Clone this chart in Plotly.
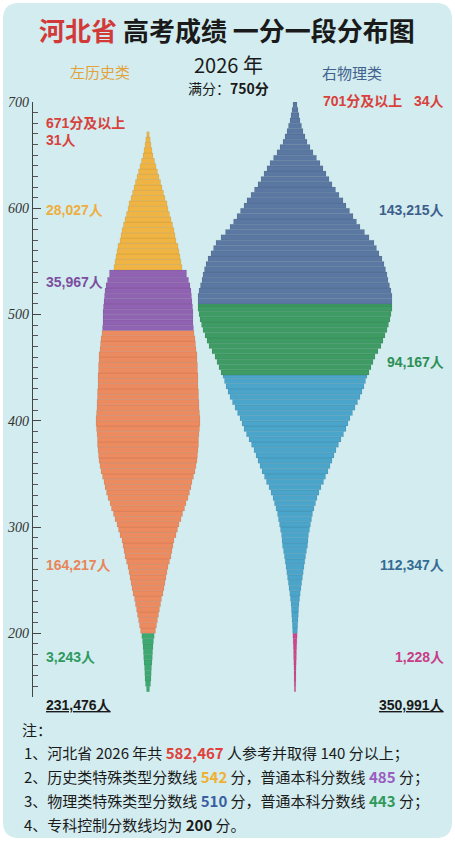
import plotly.graph_objects as go

# ---------------- data ----------------
# History (left): score-bin lower edges, last value is the top edge
hist_edges = list(range(145, 540, 5)) + list(range(542, 672, 5)) + [672]
hist_counts = [
    22, 38, 45, 48, 52, 60, 65, 69, 75, 82, 93,
    112, 128, 142, 158, 172, 188, 202, 225, 240, 255, 270, 285, 300, 322, 345, 360, 375, 390, 420, 442,
    465, 495, 518, 548, 570, 600, 622, 645, 660, 682, 705, 720, 735, 742, 750, 758, 758, 765, 772, 780,
    780, 772, 765, 765, 758, 758, 750, 750, 750, 742, 742, 735, 735, 720, 712, 705, 690, 682, 675, 675,
    675, 668, 660, 652, 645, 630, 608, 578,
    510, 495, 480, 465, 450, 420, 405, 390, 368, 345, 322, 300, 285, 255, 232, 210, 188, 165, 142, 120,
    98, 75, 60, 45, 33, 18,
]
hist_cuts = [542, 485, 200]
hist_colors = ["#efb443", "#9062b2", "#ec8b60", "#3da870"]

# Physics (right)
phys_edges = list(range(145, 445, 5)) + list(range(443, 510, 5)) + list(range(510, 705, 5)) + [702]
phys_counts = [
    10, 12, 14, 15, 16, 18, 21, 22, 25, 28, 32,
    36, 40, 45, 50, 54, 60, 69, 78, 90, 100, 112, 123, 135, 147, 159, 172, 188, 195, 202, 218,
    232, 248, 262, 285, 308, 330, 360, 390, 428, 458, 495, 525, 555, 585, 615, 652, 690, 728, 765, 795,
    825, 862, 900, 938, 975, 1005, 1035, 1058, 1080,
    1110, 1140, 1170, 1200, 1245, 1290, 1320, 1350, 1380, 1402, 1425, 1440, 1455, 1455,
    1455, 1455, 1440, 1418, 1395, 1380, 1358, 1335, 1305, 1260, 1222, 1185, 1110, 1042, 975, 922, 870,
    818, 765, 720, 660, 608, 555, 510, 465, 420, 375, 322, 270, 225, 180, 150, 120, 98, 75, 60, 45, 30, 15,
]
phys_cuts = [510, 443, 200]
phys_colors = ["#5a78a2", "#3d9b63", "#4ba4c9", "#d0448d"]

y_ticks = [200, 300, 400, 500, 600, 700]

# ---------------- layout constants ----------------
W, H = 455, 843
ML, MR, MT, MB = 33, 0, 102, 146
PW, PH = W - ML - MR, H - MT - MB
PEOPLE_PER_PX = 7.5
X_MAX = PW * PEOPLE_PER_PX
LEFT_CX = (148 - ML) * PEOPLE_PER_PX
RIGHT_CX = (295 - ML) * PEOPLE_PER_PX


def px(x):
    return (x - ML) / PW


def py(y):
    return (H - MB - y) / PH


def color_for(score, cuts, colors):
    for c, col in zip(cuts, colors):
        if score >= c:
            return col
    return colors[-1]


def violin(edges, counts, cx, cuts, colors):
    lo = edges[:-1]
    hi = edges[1:]
    centers = [(a + b) / 2 for a, b in zip(lo, hi)]
    thick = [b - a for a, b in zip(lo, hi)]
    base = [cx - c / 2 for c in counts]
    cols = [color_for(a, cuts, colors) for a in lo]
    return go.Bar(
        orientation="h", y=centers, x=counts, base=base, width=thick,
        marker=dict(color=cols, line=dict(color="rgba(0,0,0,0.10)", width=0.6)),
        hoverinfo="skip", showlegend=False,
    )


fig = go.Figure()
fig.add_trace(violin(hist_edges, hist_counts, LEFT_CX, hist_cuts, hist_colors))
fig.add_trace(violin(phys_edges, phys_counts, RIGHT_CX, phys_cuts, phys_colors))

SANS = "Liberation Sans, Arial, Noto Sans CJK SC"
CJK = "Noto Sans CJK SC"

anns = []


def ann(text, x, y, size=14, color="#222", xanchor="left", family=SANS, weight="normal"):
    anns.append(dict(
        text=text, x=px(x), y=py(y), xref="paper", yref="paper",
        xanchor=xanchor, yanchor="middle", showarrow=False,
        font=dict(size=size, color=color, family=family, weight=weight),
    ))


# Title block
ann("<span style='color:#d23a3a'>河北省</span> 高考成绩 一分一段分布图", 227, 30, size=26,
    color="#1a1a1a", xanchor="center", family=CJK, weight="bold")
ann("2026 年", 228, 64, size=20, color="#1a1a1a", xanchor="center", family=CJK)
ann("左历史类", 100, 72, size=15, color="#e2a33c", xanchor="center", family=CJK)
ann("右物理类", 352, 73, size=15, color="#41628c", xanchor="center", family=CJK)
ann("满分：<b>750分</b>", 228, 88, size=14, color="#1a1a1a", xanchor="center", family=CJK)

# Left labels
ann("<b>671分及以上</b>", 44, 123, size=14, color="#d8413c")
ann("<b>31人</b>", 44, 140, size=14, color="#d8413c")
ann("<b>28,027人</b>", 44, 210, size=14, color="#eeae3e")
ann("<b>35,967人</b>", 44, 282, size=14, color="#7c4fa0")
ann("<b>164,217人</b>", 44, 565, size=14, color="#e98559")
ann("<b>3,243人</b>", 44, 657, size=14, color="#2f9a5f")
ann("<b><u>231,476人</u></b>", 44, 705, size=14, color="#1a1a1a")

# Right labels
ann("<b>701分及以上   34人</b>", 446, 101, size=14, color="#d8413c", xanchor="right")
ann("<b>143,215人</b>", 446, 210, size=14, color="#3d5f8c", xanchor="right")
ann("<b>94,167人</b>", 446, 362, size=14, color="#2d8f55", xanchor="right")
ann("<b>112,347人</b>", 446, 565, size=14, color="#356c93", xanchor="right")
ann("<b>1,228人</b>", 446, 657, size=14, color="#c83d86", xanchor="right")
ann("<b><u>350,991人</u></b>", 446, 705, size=14, color="#1a1a1a", xanchor="right")

# Notes
NOTE = 15
ann("注：", 20, 729, size=NOTE, color="#1a1a1a", family=CJK)
ann("1、河北省 2026 年共 <b><span style='color:#e0403a'>582,467</span></b> 人参考并取得 140 分以上；",
    22, 752, size=NOTE, color="#1a1a1a", family=CJK)
ann("2、历史类特殊类型分数线 <b><span style='color:#f0b030'>542</span></b> 分，普通本科分数线 "
    "<b><span style='color:#9a5cc0'>485</span></b> 分；", 22, 776, size=NOTE, color="#1a1a1a", family=CJK)
ann("3、物理类特殊类型分数线 <b><span style='color:#3a5fa0'>510</span></b> 分，普通本科分数线 "
    "<b><span style='color:#2f9a5a'>443</span></b> 分；", 22, 800, size=NOTE, color="#1a1a1a", family=CJK)
ann("4、专科控制分数线均为 <b>200</b> 分。", 22, 824, size=NOTE, color="#1a1a1a", family=CJK)

# Rounded background card
x0, x1, y0, y1, r = 3, 452, 3, 838, 16
rx, ry = r / PW, r / PH
X0, X1, Y0, Y1 = px(x0), px(x1), py(y1), py(y0)
path = (f"M {X0+rx} {Y0} L {X1-rx} {Y0} Q {X1} {Y0} {X1} {Y0+ry} L {X1} {Y1-ry} "
        f"Q {X1} {Y1} {X1-rx} {Y1} L {X0+rx} {Y1} Q {X0} {Y1} {X0} {Y1-ry} "
        f"L {X0} {Y0+ry} Q {X0} {Y0} {X0+rx} {Y0} Z")

fig.update_layout(
    width=W, height=H,
    margin=dict(l=ML, r=MR, t=MT, b=MB),
    paper_bgcolor="white", plot_bgcolor="rgba(0,0,0,0)",
    barmode="overlay",
    shapes=[dict(type="path", path=path, xref="paper", yref="paper",
                 fillcolor="#d2ecef", line=dict(width=0), layer="below")],
    annotations=anns,
    xaxis=dict(visible=False, range=[0, X_MAX], fixedrange=True),
    yaxis=dict(
        range=[140, 700], tickvals=y_ticks, ticks="inside", ticklen=8, tickwidth=1.2,
        tickcolor="#444", showline=True, linecolor="#444", linewidth=1.2,
        showgrid=False, zeroline=False,
        tickfont=dict(family="Liberation Serif", style="italic", size=14, color="#333"),
        minor=dict(ticks="inside", dtick=10, ticklen=5, tickcolor="#555", tickwidth=1),
    ),
)

fig.write_html(
    "out.html",
    config={"displayModeBar": False},
    post_script="document.body.style.margin='0';document.body.style.overflow='hidden';",
)
